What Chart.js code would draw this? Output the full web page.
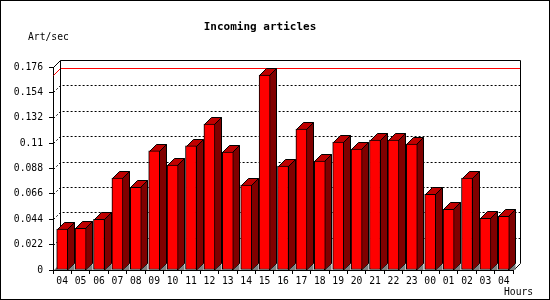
<!DOCTYPE html>
<html><head><meta charset="utf-8">
<script src="https://cdn.jsdelivr.net/npm/chart.js@4/dist/chart.umd.min.js"></script>
<style>html,body{margin:0;padding:0;background:#fff}canvas{display:block}</style>
</head><body>
<canvas id="c" width="550" height="300"></canvas>
<script>
const hours = ['04','05','06','07','08','09','10','11','12','13','14','15','16','17','18','19','20','21','22','23','00','01','02','03','04'];
const artPerSec = [0.0355,0.0362,0.0440,0.0798,0.0716,0.1033,0.0909,0.1077,0.1265,0.1022,0.0737,0.1690,0.0900,0.1222,0.0944,0.1109,0.1048,0.1126,0.1126,0.1091,0.0657,0.0527,0.0797,0.0449,0.0466];
const yTicks = [0,0.022,0.044,0.066,0.088,0.11,0.132,0.154,0.176];
const titleText = 'Incoming articles';
const yUnit = 'Art/sec';
const xUnit = 'Hours';

const DEPTH = 7;
const MONO = '"DejaVu Sans Mono", "Liberation Mono", monospace';

const chart3d = {
  id: 'chart3d',
  beforeDraw(chart) {
    const ctx = chart.ctx, W = chart.width, H = chart.height;
    ctx.save();
    ctx.fillStyle = '#fff'; ctx.fillRect(0, 0, W, H);
    ctx.strokeStyle = '#000'; ctx.lineWidth = 1;
    ctx.strokeRect(0.5, 0.5, W - 1, H - 1);
    ctx.restore();
  },
  beforeDatasetsDraw(chart) {
    const ctx = chart.ctx, a = chart.chartArea, y = chart.scales.y;
    const d = DEPTH;
    const L = Math.round(a.left), R = Math.round(a.right), T = Math.round(a.top), B = Math.round(a.bottom);
    ctx.save();
    ctx.lineWidth = 1;
    ctx.strokeStyle = '#000';
    ctx.setLineDash([2, 2]);
    yTicks.forEach(v => {
      if (v === 0 || v === yTicks[yTicks.length - 1]) return;
      const py = Math.round(y.getPixelForValue(v)) + 0.5;
      ctx.beginPath();
      ctx.moveTo(L + 0.5, py); ctx.lineTo(L + d + 0.5, py - d); ctx.lineTo(R + d + 0.5, py - d);
      ctx.stroke();
    });
    ctx.setLineDash([]);
    const maxV = Math.max(...artPerSec);
    const my = Math.round(y.getPixelForValue(maxV)) + 0.5;
    ctx.strokeStyle = '#f00';
    ctx.beginPath(); ctx.moveTo(L + 0.5, my); ctx.lineTo(L + d + 0.5, my - d); ctx.lineTo(R + d + 0.5, my - d); ctx.stroke();
    ctx.strokeStyle = '#000';
    ctx.beginPath();
    ctx.moveTo(L + 0.5, T + 0.5); ctx.lineTo(L + d + 0.5, T - d + 0.5); ctx.lineTo(R + d + 0.5, T - d + 0.5);
    ctx.lineTo(R + d + 0.5, B - d + 0.5); ctx.lineTo(R + 0.5, B + 0.5);
    ctx.moveTo(L + d + 0.5, T - d + 0.5); ctx.lineTo(L + d + 0.5, B - d + 0.5);
    ctx.stroke();
    // small shadow at axis foot
    ctx.fillStyle = '#808080';
    ctx.beginPath(); ctx.moveTo(L + 1, B); ctx.lineTo(L + 4, B - 3); ctx.lineTo(L + 4, B); ctx.closePath(); ctx.fill();

    const meta = chart.getDatasetMeta(0);
    meta.data.forEach(bar => {
      const p = bar.getProps(['x', 'y', 'base', 'width'], true);
      const l = Math.round(p.x - p.width / 2), r = Math.round(p.x + p.width / 2) - 1;
      const t = Math.round(p.y), b = Math.round(p.base);
      ctx.strokeStyle = '#000';
      ctx.fillStyle = '#800000';
      ctx.beginPath();
      ctx.moveTo(r + .5, t + .5); ctx.lineTo(r + d + .5, t - d + .5); ctx.lineTo(r + d + .5, b - d + .5); ctx.lineTo(r + .5, b + .5);
      ctx.closePath(); ctx.fill(); ctx.stroke();
      ctx.fillStyle = '#808080';
      ctx.beginPath();
      ctx.moveTo(r + 1, b); ctx.lineTo(r + d + 0.5, b - d + 1); ctx.lineTo(r + d + 0.5, b); ctx.closePath(); ctx.fill();
      ctx.fillStyle = '#c00000';
      ctx.beginPath();
      ctx.moveTo(l + .5, t + .5); ctx.lineTo(l + d + .5, t - d + .5); ctx.lineTo(r + d + .5, t - d + .5); ctx.lineTo(r + .5, t + .5);
      ctx.closePath(); ctx.fill(); ctx.stroke();
    });
    ctx.restore();
  },
  afterDraw(chart) {
    const ctx = chart.ctx;
    ctx.save();
    ctx.fillStyle = '#000';
    ctx.textBaseline = 'middle';
    ctx.font = 'bold 11px ' + MONO;
    ctx.textAlign = 'center';
    ctx.fillText(titleText, 260, 27);
    ctx.font = '9.7px ' + MONO;
    ctx.textAlign = 'left';
    ctx.fillText(yUnit, 28, 37.5);
    ctx.fillText(xUnit, 504, 292);
    ctx.restore();
  }
};

new Chart(document.getElementById('c'), {
  type: 'bar',
  data: {
    labels: hours,
    datasets: [{
      data: artPerSec,
      backgroundColor: '#ff0000',
      borderColor: '#000',
      borderWidth: 1,
      borderSkipped: false,
      barThickness: 11
    }]
  },
  options: {
    responsive: false,
    animation: false,
    devicePixelRatio: 1,
    layout: { padding: { left: 10, right: 37, top: 67, bottom: 10 } },
    plugins: { legend: { display: false }, title: { display: false }, tooltip: { enabled: false } },
    scales: {
      x: {
        type: 'category',
        offset: true,
        grid: { display: true, drawOnChartArea: false, offset: true, tickLength: 4, color: '#000' },
        border: { display: true, color: '#000' },
        ticks: { color: '#000', font: { family: MONO, size: 9.7 }, maxRotation: 0, minRotation: 0, autoSkip: false, padding: 2 },
        afterFit(scale) { scale.height = 20; }
      },
      y: {
        min: 0,
        max: 0.176,
        grid: { display: true, drawOnChartArea: false, tickLength: 4, color: '#000' },
        border: { display: true, color: '#000' },
        ticks: {
          color: '#000', font: { family: MONO, size: 9.7 }, padding: 6,
          callback: v => String(Number(Number(v).toFixed(3)))
        },
        afterBuildTicks(scale) { scale.ticks = yTicks.map(v => ({ value: v })); },
        afterFit(scale) { scale.width = 43; }
      }
    }
  },
  plugins: [chart3d]
});
</script>
</body></html>
